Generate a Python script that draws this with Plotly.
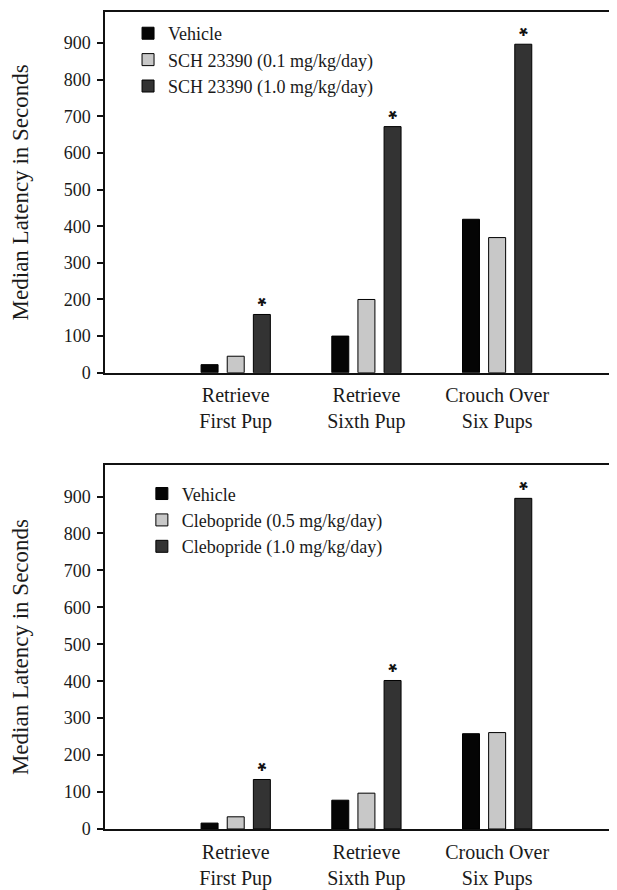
import plotly.graph_objects as go

categories = [1, 2, 3]
category_labels = ["Retrieve<br>First Pup", "Retrieve<br>Sixth Pup", "Crouch Over<br>Six Pups"]

top_names = ["Vehicle", "SCH 23390 (0.1 mg/kg/day)", "SCH 23390 (1.0 mg/kg/day)"]
top_vehicle = [22, 100, 419]
top_low = [45, 200, 369]
top_high = [159, 672, 897]

bottom_names = ["Vehicle", "Clebopride (0.5 mg/kg/day)", "Clebopride (1.0 mg/kg/day)"]
bottom_vehicle = [16, 78, 258]
bottom_low = [33, 97, 261]
bottom_high = [134, 402, 895]

significance = ["*", "*", "*"]
y_tickvals = [0, 100, 200, 300, 400, 500, 600, 700, 800, 900]

colors = ["#050505", "#c8c8c8", "#333333"]
SERIF = "Liberation Serif, Times New Roman, serif"
TXT = "#1a1a1a"

fig = go.Figure()

def add_panel(names, series, xa, ya, legend):
    for i, (name, vals) in enumerate(zip(names, series)):
        kw = {}
        if i == 2:
            kw = dict(text=significance, texttemplate="<b>%{text}</b>",
                      textposition="outside", cliponaxis=False,
                      constraintext="none", textangle=180,
                      textfont=dict(family="Liberation Sans, Arial, sans-serif", size=22, color="#111111"))
        fig.add_trace(go.Bar(
            x=categories, y=vals, name=name,
            marker=dict(color=colors[i], line=dict(color="#000000", width=1)),
            xaxis=xa, yaxis=ya, legend=legend, hoverinfo="x+y", **kw))

add_panel(top_names, [top_vehicle, top_low, top_high], "x", "y", "legend")
add_panel(bottom_names, [bottom_vehicle, bottom_low, bottom_high], "x2", "y2", "legend2")

xaxis_common = dict(range=[0, 3.917], tickvals=categories, ticktext=category_labels,
                    showline=True, linecolor="#111111", linewidth=1.5, mirror=True,
                    ticks="", showgrid=False, zeroline=False, ticklabelstandoff=4,
                    tickfont=dict(family=SERIF, size=20, color=TXT))
yaxis_common = dict(range=[0, 985], tickvals=y_tickvals, showline=True, linecolor="#111111",
                    linewidth=1.5, ticks="outside", ticklen=6, tickwidth=1.5, tickcolor="#111111",
                    showgrid=False, zeroline=False, ticklabelstandoff=3,
                    tickfont=dict(family=SERIF, size=18, color=TXT),
                    title=dict(text="Median Latency in Seconds", standoff=30,
                               font=dict(family=SERIF, size=23, color=TXT)))

legend_common = dict(font=dict(family=SERIF, size=18, color=TXT), bgcolor="rgba(0,0,0,0)",
                     xanchor="left", yanchor="top", tracegroupgap=0)

fig.update_layout(
    width=609, height=882,
    margin=dict(l=97, r=0, t=4, b=57),
    paper_bgcolor="white", plot_bgcolor="white",
    barmode="group", bargap=0.4, bargroupgap=0.35,
    xaxis=dict(domain=[0, 1], anchor="y", **xaxis_common),
    yaxis=dict(domain=[0.5585, 1.0], anchor="x", **yaxis_common),
    xaxis2=dict(domain=[0, 1], anchor="y2", **xaxis_common),
    yaxis2=dict(domain=[0, 0.4454], anchor="x2", **yaxis_common),
    legend=dict(x=0.045, y=0.9963, **legend_common),
    legend2=dict(x=0.072, y=0.4329, **legend_common),
    showlegend=True,
)

fig.write_html("out.html")
